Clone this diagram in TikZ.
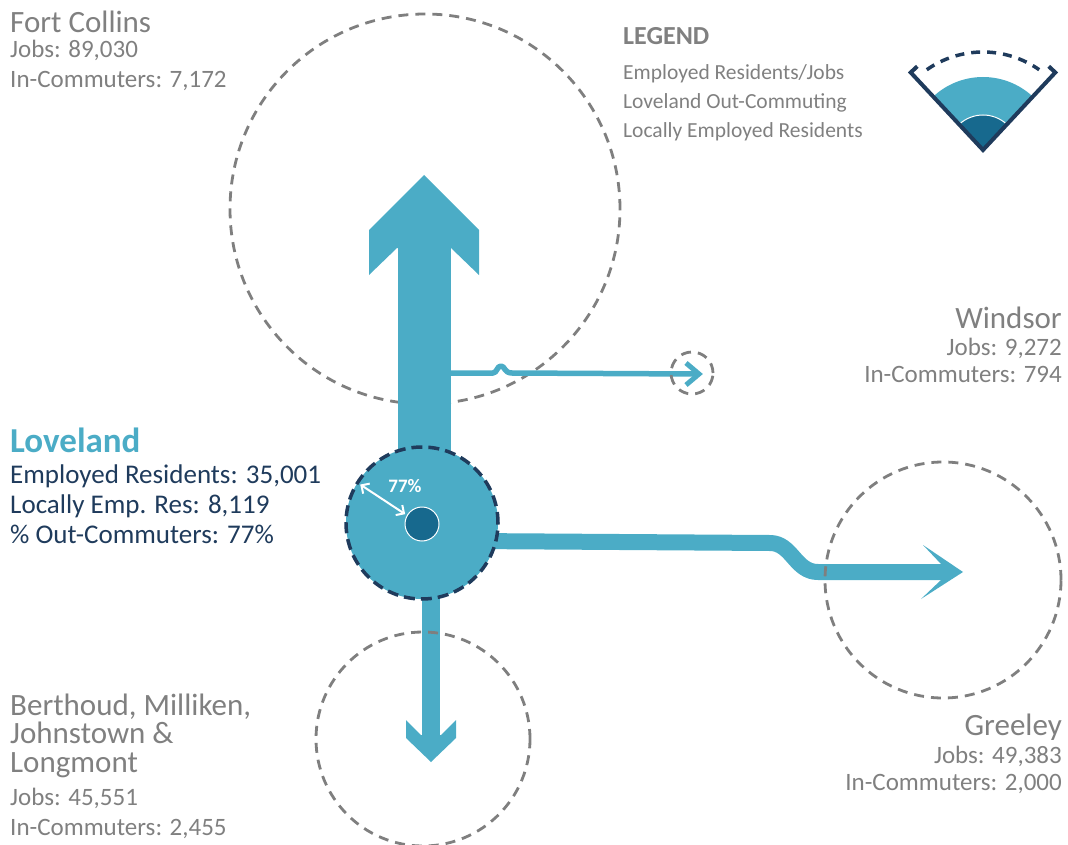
\documentclass[tikz,border=0pt]{standalone}
\usepackage{fontspec}
\setmainfont{Carlito}
\usetikzlibrary{arrows.meta,positioning,calc}

\definecolor{flowblue}{HTML}{4BACC6}
\definecolor{navy}{HTML}{1F3B5C}
\definecolor{deepteal}{HTML}{17698E}
\definecolor{txtgray}{HTML}{808080}
\definecolor{ringgray}{HTML}{7F7F7F}

\begin{document}
\begin{tikzpicture}[x=1pt,y=-1pt,
  cityring/.style={circle,draw=ringgray,line width=2.8pt,dash pattern=on 10pt off 7pt,inner sep=0pt},
  flowline/.style={draw=flowblue,line cap=butt,line join=round},
  flowhead/.style={fill=flowblue},
  cityname/.style={text=txtgray,inner sep=0pt,font=\fontsize{31}{36}\selectfont},
  citydata/.style={text=txtgray,inner sep=0pt,font=\fontsize{25}{30}\selectfont},
  lovdata/.style={text=navy,inner sep=0pt,anchor=base west,font=\fontsize{27}{32}\selectfont},
  keytext/.style={text=txtgray,inner sep=0pt,anchor=base west,font=\fontsize{21.5}{25}\selectfont}]
  \useasboundingbox (0,0) rectangle (1068,845);

  % towns
  \node[cityring,minimum size=390pt] (fc) at (425,209) {};
  \coordinate (lov-c) at (422,523);
  \coordinate (fc-tip) at (424,175);
  \coordinate (ws-tip) at (699,374);
  \coordinate (gr-tip) at (963,572);
  \coordinate (bt-tip) at (431,762);

  % Fort Collins flow
  \draw[flowline,line width=53pt] (lov-c -| fc-tip) -- ($(fc-tip)+(0,68)$);
  \fill[flowhead] (fc-tip) -- ++(55,55) -- ++(0,45) -- ++(-28,-27) -- ++(-54,0)
    -- ++(-28,27) -- ++(0,-45) -- cycle;

  % Windsor flow
  \coordinate (ws-start) at (450,373);
  \draw[flowline,line width=5.5pt] (ws-start) -- (493,373)
    .. controls (497,373) and (497,366) .. (501,366)
    .. controls (505,366) and (504,373) .. (512,373) -- ($(ws-tip)+(-4,0)$);
  \draw[flowline,line width=5pt,line join=miter] ($(ws-tip)+(-13,-11)$) -- (ws-tip) -- ++(-13,11);

  % Greeley flow
  \coordinate (gr-start) at (470,541);
  \draw[flowline,line width=16pt] (gr-start) -- (770,543)
    .. controls (792,543) and (795,572) .. (818,572) -- ($(gr-tip)+(-16,0)$);
  \fill[flowhead] (gr-tip) -- ++(-40,-27) -- ++(18,19) -- ++(0,16) -- ++(-20,19) -- cycle;

  % Berthoud flow
  \draw[flowline,line width=18pt] (lov-c -| bt-tip) -- ($(bt-tip)+(0,-21)$);
  \fill[flowhead] (bt-tip) -- ++(-25,-24) -- ++(0,-18) -- ++(15,15) -- ++(20,0)
    -- ++(15,-15) -- ++(0,18) -- cycle;

  \node[cityring,minimum size=42pt] (ws) at (692,373) {};
  \node[cityring,minimum size=236pt] (gr) at (943,580) {};
  \node[cityring,minimum size=214pt] (bt) at (423,739) {};

  % Loveland
  \node[circle,fill=flowblue,draw=navy,line width=3.5pt,dash pattern=on 11pt off 6pt,
    minimum size=152pt,inner sep=0pt] (lov) at (lov-c) {};
  \node[circle,fill=deepteal,draw=white,line width=1pt,minimum size=34pt,inner sep=0pt]
    (core) at (422,524) {};
  \draw[white,line width=2pt,{Straight Barb[length=6pt,width=12pt]}-{Straight Barb[length=6pt,width=12pt]},
    shorten <=5pt,shorten >=2pt] (lov.148) -- (core.150);
  \node[text=white,inner sep=0pt,font=\fontsize{19}{22}\selectfont\bfseries] (pct) at (405,486) {77\%};

  % labels
  \node[cityname,anchor=base west] (fc-name) at (10,33) {Fort Collins};
  \node[citydata,anchor=base west] (fc-jobs) at (10,58) {Jobs: 89,030};
  \node[citydata,anchor=base west] (fc-in) at (10,88) {In-Commuters: 7,172};

  \node[cityname,anchor=base east] (ws-name) at (1062,328) {Windsor};
  \node[citydata,anchor=base east] (ws-jobs) at (1062,355) {Jobs: 9,272};
  \node[citydata,anchor=base east] (ws-in) at (1062,382) {In-Commuters: 794};

  \node[cityname,anchor=base east] (gr-name) at (1062,735) {Greeley};
  \node[citydata,anchor=base east] (gr-jobs) at (1062,763) {Jobs: 49,383};
  \node[citydata,anchor=base east] (gr-in) at (1062,790) {In-Commuters: 2,000};

  \node[cityname,anchor=base west] (bt-name1) at (10,715) {Berthoud, Milliken,};
  \node[cityname,anchor=base west] (bt-name2) at (10,743) {Johnstown \&};
  \node[cityname,anchor=base west] (bt-name3) at (10,772) {Longmont};
  \node[citydata,anchor=base west] (bt-jobs) at (10,805) {Jobs: 45,551};
  \node[citydata,anchor=base west] (bt-in) at (10,835) {In-Commuters: 2,455};

  \node[text=flowblue,inner sep=0pt,anchor=base west,font=\fontsize{35}{40}\selectfont\bfseries]
    (lov-name) at (10,452) {Loveland};
  \node[lovdata] (lov-emp) at (10,483) {Employed Residents: 35,001};
  \node[lovdata] (lov-loc) at (10,513) {Locally Emp. Res: 8,119};
  \node[lovdata] (lov-out) at (10,543) {\% Out-Commuters: 77\%};

  % legend
  \node[text=txtgray,inner sep=0pt,anchor=base west,font=\fontsize{26}{30}\selectfont\bfseries]
    (key-title) at (623,45) {LEGEND};
  \foreach \txt [count=\i] in {{Employed Residents/Jobs},{Loveland Out-Commuting},{Locally Employed Residents}}
    \node[keytext] (key\i) at (623,{80+29*(\i-1)}) {\txt};

  \coordinate (key) at (983,150);
  \fill[flowblue] (key) -- ++(227:73) arc[start angle=227,end angle=313,radius=73] -- cycle;
  \fill[deepteal] (key) -- ++(227:35) arc[start angle=227,end angle=313,radius=35] -- cycle;
  \draw[white,line width=1pt] ($(key)+(227:35)$) arc[start angle=227,end angle=313,radius=35];
  \draw[navy,line width=4pt,line join=miter] ($(key)+(227:106)+(317:9)$) -- ($(key)+(227:106)$)
    -- (key) -- ($(key)+(313:106)$) -- ($(key)+(313:106)+(223:9)$);
  \draw[navy,line width=3.5pt,dash pattern=on 9pt off 7pt]
    ($(key)+(235:98)$) arc[start angle=235,end angle=305,radius=98];
\end{tikzpicture}
\end{document}
